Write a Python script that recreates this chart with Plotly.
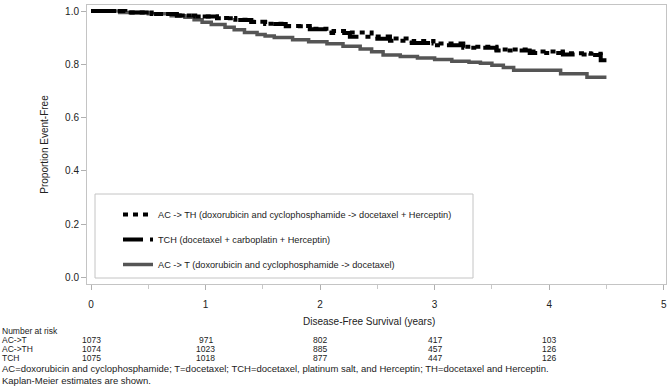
import plotly.graph_objects as go

# ---------------- data ----------------
act_t = [0, 0.25, 0.5, 0.7, 0.82, 0.9, 0.97, 1.05, 1.17, 1.25, 1.34, 1.45, 1.52, 1.6,
         1.76, 1.9, 2.06, 2.2, 2.35, 2.45, 2.55, 2.7, 2.85, 3.0, 3.15, 3.3, 3.4, 3.5,
         3.6, 3.69, 4.1, 4.33, 4.5]
act_s = [1.0, 0.995, 0.99, 0.983, 0.977, 0.968, 0.958, 0.95, 0.939, 0.93, 0.92, 0.912,
         0.907, 0.901, 0.892, 0.885, 0.877, 0.868, 0.858, 0.847, 0.835, 0.83, 0.824,
         0.818, 0.812, 0.808, 0.804, 0.797, 0.788, 0.778, 0.765, 0.752, 0.752]

acth_t = [0, 0.3, 0.53, 0.75, 0.91, 1.1, 1.26, 1.4, 1.52, 1.7, 1.91, 2.1, 2.26, 2.45,
          2.61, 2.8, 2.99, 3.25, 3.54, 3.83, 4.12, 4.36, 4.45, 4.5]
acth_s = [1.0, 0.995, 0.989, 0.984, 0.98, 0.974, 0.968, 0.96, 0.953, 0.944, 0.934,
          0.925, 0.92, 0.905, 0.897, 0.888, 0.878, 0.866, 0.856, 0.848, 0.842, 0.84,
          0.835, 0.835]

tch_t = [0, 0.3, 0.53, 0.75, 0.91, 1.1, 1.26, 1.4, 1.52, 1.7, 1.91, 2.1, 2.26, 2.45,
         2.61, 2.8, 2.99, 3.25, 3.54, 3.83, 4.12, 4.36, 4.45, 4.5]
tch_s = [1.0, 0.995, 0.989, 0.984, 0.98, 0.973, 0.967, 0.959, 0.952, 0.943, 0.932,
         0.918, 0.904, 0.896, 0.889, 0.88, 0.872, 0.862, 0.852, 0.843, 0.837, 0.835,
         0.815, 0.815]

risk_times = [0, 1, 2, 3, 4]
risk_groups = ["AC->T", "AC->TH", "TCH"]
risk_act = [1073, 971, 802, 417, 103]
risk_acth = [1074, 1023, 885, 457, 126]
risk_tch = [1075, 1018, 877, 447, 126]

x_ticks = [0, 1, 2, 3, 4, 5]
y_ticks = [0.0, 0.2, 0.4, 0.6, 0.8, 1.0]

name_acth = "AC -> TH (doxorubicin and cyclophosphamide -> docetaxel + Herceptin)"
name_tch = "TCH (docetaxel + carboplatin + Herceptin)"
name_act = "AC -> T (doxorubicin and cyclophosphamide -> docetaxel)"
footnote1 = ("AC=doxorubicin and cyclophosphamide; T=docetaxel; TCH=docetaxel, platinum salt, "
             "and Herceptin; TH=docetaxel and Herceptin.")
footnote2 = "Kaplan-Meier estimates are shown."

# ---------------- figure ----------------
W, H = 671, 391
ML, MR, MT, MB = 87, 5, 5, 107
PW, PH = W - ML - MR, H - MT - MB


def px(xp):
    return (xp - ML) / PW


def py(yp):
    return (H - MB - yp) / PH


TXT = "#222222"
FONT = "Liberation Sans, Arial, sans-serif"

fig = go.Figure()
fig.add_trace(go.Scatter(x=act_t, y=act_s, mode="lines", line_shape="hv", name=name_act,
                         line=dict(color="#555555", width=3.5), legendgroup="c", legendrank=3))
fig.add_trace(go.Scatter(x=tch_t, y=tch_s, mode="lines", line_shape="hv", name=name_tch,
                         line=dict(color="#000000", width=4, dash="20px,7px,5px,7px"),
                         legendgroup="b", legendrank=2))
fig.add_trace(go.Scatter(x=acth_t, y=acth_s, mode="lines", line_shape="hv", name=name_acth,
                         line=dict(color="#000000", width=4, dash="5px,5px"),
                         legendgroup="a", legendrank=1))

axis_common = dict(showgrid=False, zeroline=False, showline=True, linecolor="#c4c4c4",
                   linewidth=1, mirror=True, ticks="outside", ticklen=5, tickcolor="#b0b0b0",
                   automargin=False,
                   tickfont=dict(family=FONT, size=10, color=TXT))

fig.update_xaxes(range=[-0.035, 5.02], tickvals=x_ticks, ticklabelstandoff=6,
                 minor=dict(tickvals=[0.5, 1.5, 2.5, 3.5, 4.5], ticks="outside", ticklen=4,
                            tickcolor="#c8c8c8"),
                 **axis_common)
fig.update_yaxes(range=[-0.025, 1.023], tickvals=y_ticks, tickformat=".1f",
                 title=dict(text="Proportion Event-Free", standoff=14,
                            font=dict(family=FONT, size=10, color=TXT)),
                 **axis_common)

annotations = [
    dict(text="Disease-Free Survival (years)", x=px(369), y=py(321), xref="paper",
         yref="paper", showarrow=False, xanchor="center", yanchor="middle",
         font=dict(family=FONT, size=10, color=TXT)),
    dict(text="Number at risk", x=px(1), y=py(331), xref="paper", yref="paper",
         showarrow=False, xanchor="left", yanchor="middle", borderpad=0,
         font=dict(family=FONT, size=8.5, color=TXT)),
]
rows = [risk_act, risk_acth, risk_tch]
row_y = [340, 349, 358]
for g, vals, yy in zip(risk_groups, rows, row_y):
    annotations.append(dict(text=g, x=px(1), y=py(yy), xref="paper", yref="paper",
                            showarrow=False, xanchor="left", yanchor="middle", borderpad=0,
                            font=dict(family=FONT, size=8.5, color=TXT)))
    for t, v in zip(risk_times, vals):
        annotations.append(dict(text=str(v), x=t, y=py(yy), xref="x", yref="paper",
                                showarrow=False, xanchor="center", yanchor="middle",
                                borderpad=0,
                                font=dict(family=FONT, size=8.5, color=TXT)))
annotations.append(dict(text=footnote1, x=px(1), y=py(368.5), xref="paper", yref="paper",
                        showarrow=False, xanchor="left", yanchor="middle", borderpad=0,
                        font=dict(family=FONT, size=9.5, color=TXT)))
annotations.append(dict(text=footnote2, x=px(1), y=py(380), xref="paper", yref="paper",
                        showarrow=False, xanchor="left", yanchor="middle", borderpad=0,
                        font=dict(family=FONT, size=9.5, color=TXT)))

fig.update_layout(
    template="none",
    width=W, height=H, autosize=False,
    margin=dict(l=ML, r=MR, t=MT, b=MB, pad=0),
    paper_bgcolor="white", plot_bgcolor="white",
    showlegend=True,
    legend=dict(x=px(118), y=py(200), xanchor="left", yanchor="top",
                bgcolor="rgba(0,0,0,0)", borderwidth=0, tracegroupgap=6,
                traceorder="grouped",
                font=dict(family=FONT, size=9.2, color=TXT)),
    shapes=[dict(type="rect", xref="paper", yref="paper", x0=px(95), x1=px(473),
                 y0=py(278), y1=py(194), line=dict(color="#c4c4c4", width=1),
                 fillcolor="rgba(0,0,0,0)", layer="below")],
    annotations=annotations,
)

fig.write_html("out.html", config={"displayModeBar": False},
               post_script="document.body.style.margin='0';document.body.style.padding='0';")
